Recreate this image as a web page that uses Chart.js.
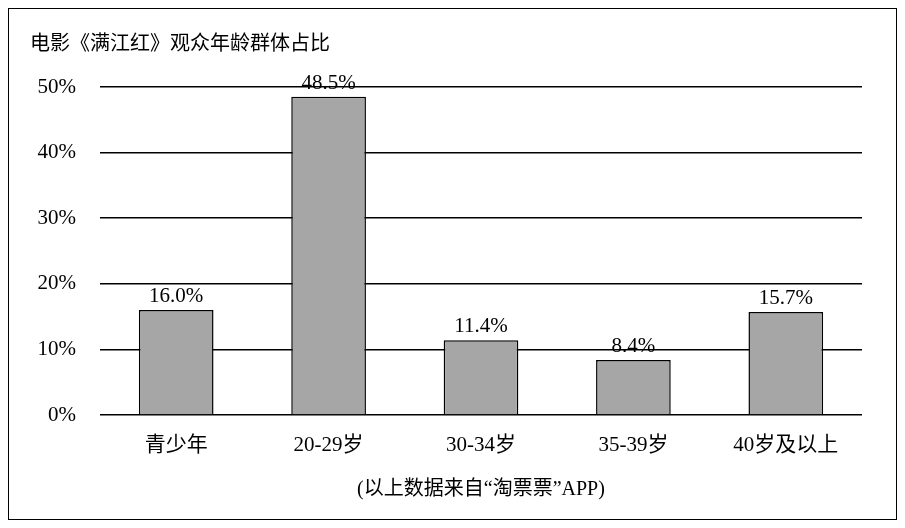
<!DOCTYPE html>
<html><head><meta charset="utf-8">
<script src="https://cdn.jsdelivr.net/npm/chart.js@4"></script>
<style>
html,body{margin:0;padding:0;background:#fff;}
#wrap{position:relative;width:905px;height:528px;}
#frame{position:absolute;left:8px;top:8px;width:887px;height:510px;border:1.5px solid #000;pointer-events:none;}
</style></head><body>
<div id="wrap"><canvas id="c" width="905" height="528"></canvas><div id="frame"></div></div>
<script>
const categories = ["青少年","20-29岁","30-34岁","35-39岁","40岁及以上"];
const values = [16.0, 48.5, 11.4, 8.4, 15.7];
const yTicks = [0,10,20,30,40,50];
const titleText = "电影《满江红》观众年龄群体占比";
const footerText = "(以上数据来自“淘票票”APP)";
const FONT = '"Liberation Serif","Noto Sans CJK SC",serif';

const labelsPlugin = {
  id:'lbl',
  afterDatasetsDraw(chart){
    const ctx = chart.ctx;
    ctx.save();
    ctx.font = '21px '+FONT; ctx.fillStyle='#000'; ctx.textAlign='center'; ctx.textBaseline='bottom';
    chart.getDatasetMeta(0).data.forEach((b,i)=>{ ctx.fillText(values[i].toFixed(1)+'%', b.x, b.y-3); });
    ctx.font = '20px '+FONT;
    ctx.textAlign='left'; ctx.textBaseline='middle';
    ctx.fillText(titleText, 30, 45);
    ctx.textAlign='center';
    ctx.fillText(footerText, (chart.chartArea.left+chart.chartArea.right)/2, 490);
    ctx.restore();
  }
};

new Chart(document.getElementById('c'), {
  type:'bar',
  data:{labels:categories, datasets:[{data:values, backgroundColor:'#a6a6a6', borderColor:'#000', borderWidth:1.5, barPercentage:0.49, categoryPercentage:1}]},
  options:{
    responsive:false, animation:false,
    layout:{padding:{top:87,right:43,left:0,bottom:0}},
    plugins:{legend:{display:false},tooltip:{enabled:false}},
    scales:{
      x:{grid:{display:false},border:{display:false},
         ticks:{font:{size:21,family:FONT},color:'#000',padding:10},
         afterFit(s){s.height=113;}},
      y:{min:0,max:50,afterBuildTicks(s){s.ticks=yTicks.map(v=>({value:v}));},
         grid:{color:'#000',lineWidth:1.5,drawTicks:false},border:{display:false},
         ticks:{font:{size:21,family:FONT},color:'#000',padding:24,callback:v=>v+'%'},
         afterFit(s){s.width=100;}}
    }
  },
  plugins:[labelsPlugin]
});
</script></body></html>
